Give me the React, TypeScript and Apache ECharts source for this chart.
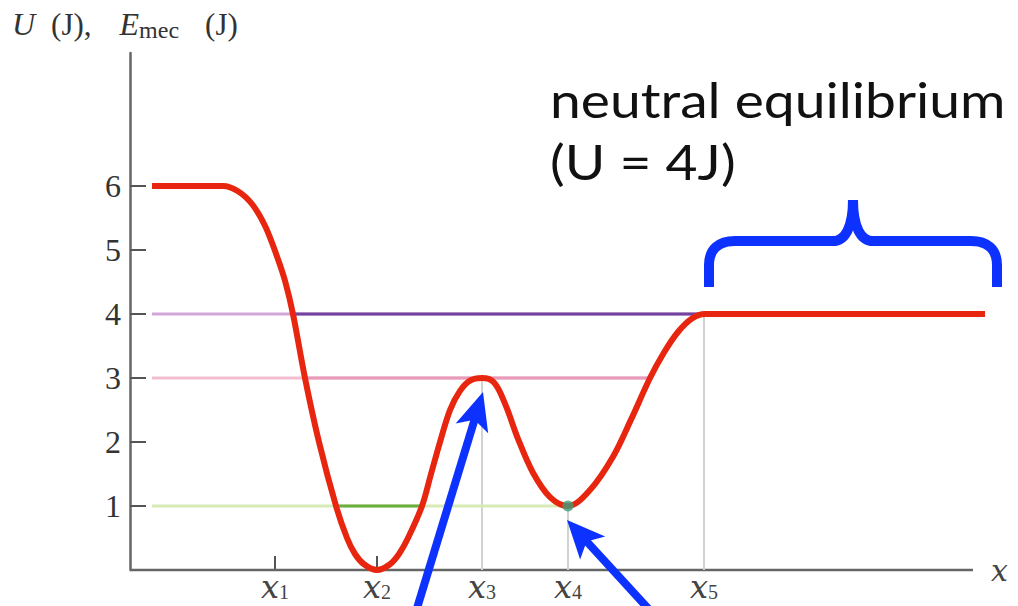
import { useEffect, useRef } from 'react';
import * as echarts from 'echarts';

// Horizontal positions of the marked points x1..x5 (axis units)
const xTickPositions = [145, 247, 352, 438, 574];
const xTickSubscripts = ['1', '2', '3', '4', '5'];
const yTickValues = [1, 2, 3, 4, 5, 6];
const xAxisEnd = 843;

// Potential energy curve U(x), in joules
const curveX = [22, 93, 108, 122, 135, 147, 155, 163, 175, 189, 206, 217, 225, 234, 247, 260, 269, 278, 292, 301, 310, 320, 330, 340, 352, 364, 375, 388, 403, 420, 438, 460, 483, 501, 520, 534, 548, 562, 575, 855];
const curveU = [6, 6, 5.92, 5.72, 5.38, 4.9, 4.52, 4.0, 3.0, 2.0, 1.0, 0.5, 0.25, 0.09, 0, 0.09, 0.25, 0.5, 1.0, 1.5, 2.0, 2.5, 2.8, 2.96, 3.0, 2.93, 2.6, 2.05, 1.52, 1.14, 1.0, 1.25, 1.77, 2.35, 3.0, 3.4, 3.72, 3.93, 4.0, 4.0];

// Mechanical-energy levels: faint full line plus the bold segment
const levelStartX = 22;
const level4 = { u: 4, end: 574, boldFrom: 163, boldTo: 574 };
const level3 = { u: 3, end: 520, boldFrom: 175, boldTo: 520 };
const level1 = { u: 1, end: 438, boldFrom: 207, boldTo: 290 };

// Gray drop lines from x3, x4, x5 up to the curve
const guideX = [352, 438, 574];
const guideTop = [3, 1, 4];

// Stable equilibrium marker
const minimumPoint = [438, 1];

const serif = '"Liberation Serif", "DejaVu Serif", serif';
const mathSerif = '"DejaVu Serif", serif';
const BLUE = '#0d32ff';
const AXIS = '#666';

echarts.graphic.registerShape(
  'brace',
  echarts.graphic.extendPath(
    'M0 0 L0 -22 C0 -38 10 -46 26 -46 L124 -46 C136 -46 144 -60 144 -87 C144 -60 152 -46 164 -46 L262 -46 C278 -46 288 -38 288 -22 L288 0',
    {}
  )
);

function arrow(tip: number[], tail: number[]) {
  const headLen = 38;
  const halfW = 17;
  const notch = 9;
  const dx = tip[0] - tail[0];
  const dy = tip[1] - tail[1];
  const len = Math.hypot(dx, dy);
  const ux = dx / len;
  const uy = dy / len;
  const px = -uy;
  const py = ux;
  const bx = tip[0] - ux * headLen;
  const by = tip[1] - uy * headLen;
  const nx = bx + ux * notch;
  const ny = by + uy * notch;
  return [
    {
      type: 'line',
      shape: { x1: tail[0], y1: tail[1], x2: nx + ux * 2, y2: ny + uy * 2 },
      style: { stroke: BLUE, lineWidth: 8 },
      z: 100,
    },
    {
      type: 'polygon',
      shape: {
        points: [
          [tip[0], tip[1]],
          [bx + px * halfW, by + py * halfW],
          [nx, ny],
          [bx - px * halfW, by - py * halfW],
        ],
      },
      style: { fill: BLUE },
      z: 100,
    },
  ];
}

function segment(x0: number, x1: number, u: number, color: string, width: number, z: number) {
  return {
    type: 'line',
    data: [
      [x0, u],
      [x1, u],
    ],
    symbol: 'none',
    silent: true,
    lineStyle: { color, width },
    z,
  };
}

export default function App() {
  const ref = useRef<HTMLDivElement>(null);

  useEffect(() => {
    if (!ref.current) return;
    const chart = echarts.init(ref.current, undefined, { renderer: 'svg' });

    const guides = guideX.map((x, i) => ({
      type: 'line',
      data: [
        [x, 0],
        [x, guideTop[i]],
      ],
      symbol: 'none',
      silent: true,
      lineStyle: { color: '#d2d2d2', width: 2 },
      z: 1,
    }));

    chart.setOption({
      animation: false,
      backgroundColor: '#ffffff',
      grid: { left: 130, right: 28, top: 53, bottom: 36 },
      xAxis: {
        type: 'value',
        min: 0,
        max: 860,
        name: 'x',
        nameLocation: 'end',
        nameGap: 1,
        nameTextStyle: {
          fontFamily: mathSerif,
          fontStyle: 'italic',
          fontSize: 30,
          color: '#444',
          verticalAlign: 'middle',
        },
        axisLine: { show: false },
        axisTick: {
          show: true,
          inside: true,
          length: 14,
          customValues: xTickPositions,
          lineStyle: { color: '#555', width: 2 },
        },
        axisLabel: {
          customValues: xTickPositions,
          margin: 3,
          formatter: (v: number) => {
            const i = xTickPositions.indexOf(v);
            return i < 0 ? '' : `{x|x}{n|${xTickSubscripts[i]}}`;
          },
          rich: {
            x: { fontFamily: mathSerif, fontStyle: 'italic', fontSize: 32, lineHeight: 28, color: '#444' },
            n: { fontFamily: serif, fontSize: 20, lineHeight: 18, color: '#444', padding: [10, 0, 0, 0] },
          },
        },
        splitLine: { show: false },
      },
      yAxis: {
        type: 'value',
        min: 0,
        max: 8.08,
        axisLine: { show: true, lineStyle: { color: AXIS, width: 2.5 } },
        axisTick: {
          show: true,
          inside: true,
          length: 16,
          customValues: yTickValues,
          lineStyle: { color: '#555', width: 2 },
        },
        axisLabel: {
          customValues: yTickValues,
          margin: 9,
          fontFamily: serif,
          fontSize: 32,
          color: '#333',
        },
        splitLine: { show: false },
      },
      series: [
        // x axis line, stopping short of the plot's right edge
        {
          type: 'line',
          data: [
            [0, 0],
            [xAxisEnd, 0],
          ],
          symbol: 'none',
          silent: true,
          clip: false,
          lineStyle: { color: AXIS, width: 2.5 },
          z: 0,
        },
        ...guides,
        segment(levelStartX, level4.end, level4.u, '#d3a6d9', 3, 2),
        segment(level4.boldFrom, level4.boldTo, level4.u, '#7343a0', 3, 3),
        segment(levelStartX, level3.end, level3.u, '#f2bdd0', 3, 2),
        segment(level3.boldFrom, level3.boldTo, level3.u, '#e79ab9', 3, 3),
        segment(levelStartX, level1.end, level1.u, '#d6ebb6', 3, 2),
        segment(level1.boldFrom, level1.boldTo, level1.u, '#6aaf3f', 3, 3),
        {
          type: 'line',
          data: curveX.map((x, i) => [x, curveU[i]]),
          smooth: 0.35,
          symbol: 'none',
          clip: false,
          silent: true,
          lineStyle: { color: '#e8260f', width: 6 },
          z: 5,
        },
        {
          type: 'scatter',
          data: [minimumPoint],
          symbolSize: 11,
          itemStyle: { color: '#3f9f7a' },
          silent: true,
          z: 6,
        },
      ],
    });

    const peak = chart.convertToPixel({ gridIndex: 0 }, [xTickPositions[2], 3]) as number[];
    const valley = chart.convertToPixel({ gridIndex: 0 }, minimumPoint) as number[];
    const flatStart = chart.convertToPixel({ gridIndex: 0 }, [xTickPositions[4], 4]) as number[];

    const tip1 = [peak[0] + 1, peak[1] + 14];
    const tip2 = [valley[0] - 1, valley[1] + 14];

    chart.setOption({
      graphic: [
        {
          type: 'text',
          x: 12,
          y: 6,
          style: {
            text: '{u|U}{r|(J),}{e|E}{s|mec}{q|(J)}',
            rich: {
              u: { fontFamily: serif, fontStyle: 'italic', fontSize: 32, fill: '#333', padding: [0, 16, 0, 0] },
              r: { fontFamily: serif, fontSize: 31, fill: '#333', padding: [0, 28, 0, 0] },
              e: { fontFamily: serif, fontStyle: 'italic', fontSize: 32, fill: '#333' },
              s: { fontFamily: serif, fontSize: 24, fill: '#333', padding: [12, 26, 0, 0] },
              q: { fontFamily: serif, fontSize: 31, fill: '#333' },
            },
          },
        },
        {
          type: 'text',
          x: 550,
          y: 99,
          scaleX: 1.15,
          style: {
            text: 'neutral equilibrium',
            font: '48px Lato, "Open Sans", sans-serif',
            fill: '#111',
            verticalAlign: 'middle',
          },
        },
        {
          type: 'text',
          x: 550,
          y: 161,
          scaleX: 1.15,
          style: {
            text: '(U = 4J)',
            font: '48px Lato, "Open Sans", sans-serif',
            fill: '#111',
            verticalAlign: 'middle',
          },
        },
        {
          type: 'brace',
          x: flatStart[0] + 5,
          y: flatStart[1] - 27,
          style: { fill: 'none', stroke: BLUE, lineWidth: 10 },
          z: 100,
        },
        ...arrow(tip1, [tip1[0] - 69, tip1[1] + 226]),
        ...arrow(tip2, [tip2[0] + 88, tip2[1] + 96]),
      ],
    });

    return () => chart.dispose();
  }, []);

  return (
    <div
      ref={ref}
      style={{ position: 'absolute', left: 0, top: 0, width: 1018, height: 606 }}
    />
  );
}
